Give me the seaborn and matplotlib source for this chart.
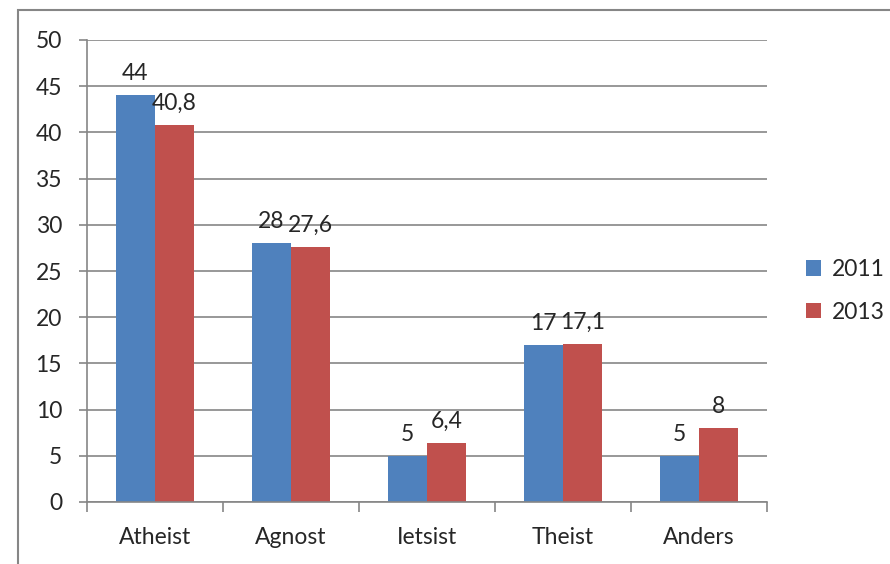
import matplotlib
matplotlib.use("Agg")
import matplotlib.pyplot as plt
from matplotlib.patches import Rectangle
from matplotlib.ticker import MultipleLocator, FixedLocator
import seaborn as sns
import pandas as pd

categories = ["Atheist", "Agnost", "Ietsist", "Theist", "Anders"]
years = ["2011", "2013"]
values_2011 = [44, 28, 5, 17, 5]
values_2013 = [40.8, 27.6, 6.4, 17.1, 8]
colors = ["#4F81BD", "#C0504D"]

df = pd.DataFrame({
    "cat": categories * 2,
    "year": [years[0]] * len(categories) + [years[1]] * len(categories),
    "val": values_2011 + values_2013,
})

sns.set_style("white")
plt.rcParams["font.family"] = ["Lato", "DejaVu Sans"]
fs = 16.5

fig = plt.figure(figsize=(8.9, 5.64), dpi=100)
ax = fig.add_axes([87 / 890, 62 / 564, 680 / 890, 462 / 564])

sns.barplot(data=df, x="cat", y="val", hue="year", palette=colors,
            width=0.574, saturation=1, ax=ax, errorbar=None, linewidth=0)

def fmt(v):
    s = f"{v:g}"
    return s.replace(".", ",")

for cont in ax.containers:
    ax.bar_label(cont, labels=[fmt(b.get_height()) for b in cont],
                 padding=8, fontsize=fs)

grey = "#868686"
ax.set_ylim(0, 50)
ax.set_xlim(-0.5, len(categories) - 0.5)
ax.yaxis.set_major_locator(MultipleLocator(5))
ax.grid(axis="y", color=grey, linewidth=1.2)
ax.set_axisbelow(True)
ax.set_xlabel("")
ax.set_ylabel("")

for s in ["top", "right"]:
    ax.spines[s].set_visible(False)
for s in ["left", "bottom"]:
    ax.spines[s].set_color(grey)
    ax.spines[s].set_linewidth(1.2)

ax.tick_params(axis="y", length=6, color=grey, width=1.2, pad=12, labelsize=fs, left=True)
ax.tick_params(axis="x", which="major", length=0, pad=18, labelsize=fs)
ax.xaxis.set_minor_locator(FixedLocator([i - 0.5 for i in range(len(categories) + 1)]))
ax.tick_params(axis="x", which="minor", length=7, color=grey, width=1.2, bottom=True)

leg = ax.legend(loc="center left", bbox_to_anchor=(1.057, 0.457), frameon=False,
                fontsize=fs, handlelength=0.65, handleheight=0.65, borderaxespad=0,
                borderpad=0, handletextpad=0.5, labelspacing=0.95)

fig.patches.append(Rectangle((18 / 890, -0.1), 1.2, 1.1 - 10 / 564,
                             transform=fig.transFigure, fill=False,
                             edgecolor=grey, linewidth=1.5))

fig.savefig("out.png", dpi=100)
